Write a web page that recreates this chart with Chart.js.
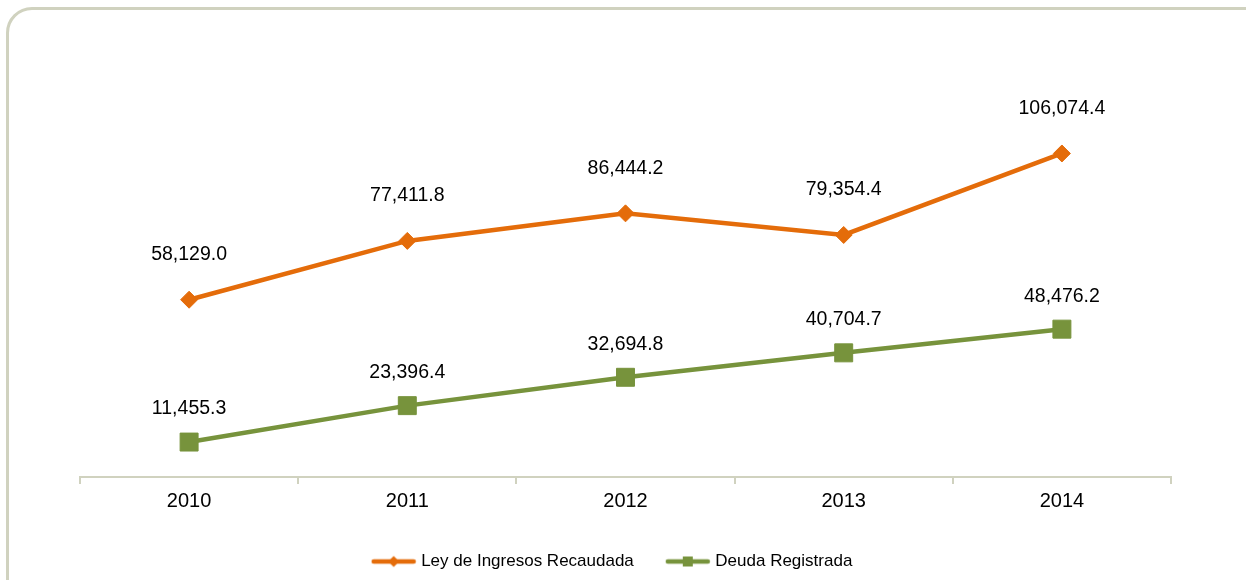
<!DOCTYPE html>
<html><head><meta charset="utf-8">
<script src="https://cdn.jsdelivr.net/npm/chart.js@4.4.1/dist/chart.umd.min.js"></script>
<style>
html,body{margin:0;padding:0;background:#fff;overflow:hidden;}
#wrap{position:relative;width:1246px;height:580px;overflow:hidden;}
#frame{position:absolute;left:6px;top:7px;width:1300px;height:640px;border:3px solid #d0d2bf;border-radius:26px;box-sizing:border-box;}
canvas{position:absolute;left:0;top:0;}
</style></head><body>
<div id="wrap"><div id="frame"></div><canvas id="c" width="1246" height="580"></canvas></div>
<script>
const years = ['2010','2011','2012','2013','2014'];
const ingresos = [58129.0, 77411.8, 86444.2, 79354.4, 106074.4];
const deuda = [11455.3, 23396.4, 32694.8, 40704.7, 48476.2];
const seriesNames = ['Ley de Ingresos Recaudada','Deuda Registrada'];
const ORANGE = '#e46c0a', GREEN = '#77933c', FRAME = '#d0d2bf';
const FONT = '"Liberation Sans", Arial, sans-serif';

function legendIcon(color, shape){
  const c = document.createElement('canvas'); c.width = 46; c.height = 14;
  const x = c.getContext('2d');
  x.strokeStyle = color; x.lineWidth = 4.5; x.lineCap = 'round';
  x.beginPath(); x.moveTo(3,7); x.lineTo(43,7); x.stroke();
  x.fillStyle = color;
  if (shape === 'diamond') { x.beginPath(); x.moveTo(23,1.5); x.lineTo(28.5,7); x.lineTo(23,12.5); x.lineTo(17.5,7); x.closePath(); x.fill(); }
  else { x.fillRect(18,2,10,10); }
  return c;
}
const icons = [legendIcon(ORANGE,'diamond'), legendIcon(GREEN,'square')];

const fmt = v => v.toLocaleString('en-US',{minimumFractionDigits:1,maximumFractionDigits:1});
const labelOffsets = [45, 33];
const valueLabels = {
  id:'valueLabels',
  afterDatasetsDraw(chart){
    const ctx = chart.ctx; ctx.save();
    ctx.font = '19.5px ' + FONT; ctx.fillStyle = '#000';
    ctx.textAlign = 'center'; ctx.textBaseline = 'middle';
    chart.data.datasets.forEach((ds,i)=>{
      chart.getDatasetMeta(i).data.forEach((pt,j)=>{
        ctx.fillText(fmt(ds.data[j]), pt.x, pt.y - labelOffsets[i]);
      });
    });
    ctx.restore();
  }
};

new Chart(document.getElementById('c'), {
  type:'line',
  data:{labels:years, datasets:[
    {label:seriesNames[0], data:ingresos, borderColor:ORANGE, backgroundColor:ORANGE, borderWidth:4.5,
     pointStyle:'rectRot', pointRadius:8.5, pointBorderWidth:1, pointBorderColor:ORANGE, pointBackgroundColor:ORANGE, tension:0, fill:false},
    {label:seriesNames[1], data:deuda, borderColor:GREEN, backgroundColor:GREEN, borderWidth:4.5,
     pointStyle:'rect', pointRadius:12.7, pointBorderWidth:1, pointBorderColor:GREEN, pointBackgroundColor:GREEN, tension:0, fill:false}
  ]},
  options:{
    responsive:false, devicePixelRatio:1, animation:false,
    layout:{padding:{left:56, right:75, top:111, bottom:0}},
    scales:{
      x:{offset:true,
         grid:{offset:true, drawOnChartArea:false, drawTicks:true, tickLength:7, color:FRAME, lineWidth:2},
         border:{display:true, color:FRAME, width:2},
         ticks:{color:'#000', font:{size:20, family:FONT}, padding:5}},
      y:{display:true, min:0, max:120000,
         grid:{display:false}, border:{display:false}, ticks:{display:false},
         afterFit(scale){ scale.width = 24; }}
    },
    plugins:{
      legend:{position:'bottom',
        labels:{usePointStyle:true, pointStyleWidth:38, color:'#000', font:{size:17, family:FONT}, padding:35,
          generateLabels(chart){
            const items = Chart.defaults.plugins.legend.labels.generateLabels(chart);
            items.forEach((it,i)=>{ it.pointStyle = icons[i]; });
            return items;
          }}},
      tooltip:{enabled:false}
    }
  },
  plugins:[valueLabels]
});
</script>
</body></html>
